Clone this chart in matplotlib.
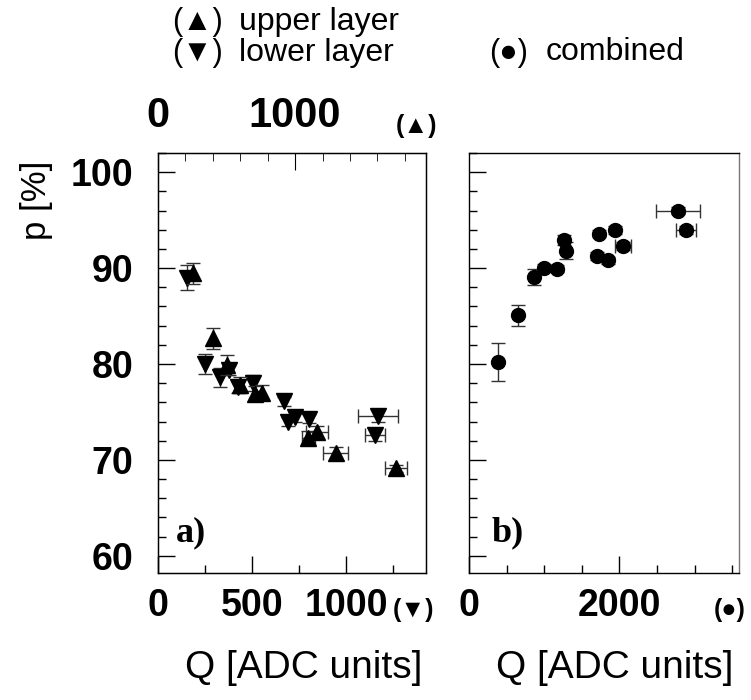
import matplotlib
matplotlib.use('Agg')
import matplotlib.pyplot as plt
from matplotlib.ticker import MultipleLocator

plt.rcParams['font.family'] = ['Liberation Sans', 'DejaVu Sans']

# upper layer (top axis scale)
up_q = [258, 399, 506, 599, 708, 757, 1097, 1158, 1297, 1735]
up_p = [89.45, 82.7, 79.9, 77.8, 76.9, 77.0, 72.3, 72.9, 70.7, 69.1]
up_perr = [1.1, 1.1, 1.0, 0.8, 0.8, 0.8, 0.7, 0.6, 0.6, 0.4]
up_qerr = [0, 0, 0, 0, 0, 0, 49, 80, 91, 80]

# lower layer (bottom axis scale)
lo_q = [154, 250, 330, 378, 427, 505, 667, 693, 729, 800, 1168, 1151]
lo_p = [89.0, 80.0, 78.6, 79.4, 77.6, 78.0, 76.1, 74.0, 74.5, 74.3, 74.6, 72.6]
lo_perr = [1.3, 1.05, 0.95, 0.5, 0.6, 0.8, 0.5, 0.5, 0.5, 0.5, 0.6, 0.6]
lo_qerr = [0, 0, 0, 0, 0, 0, 0, 0, 0, 0, 106, 53]

# combined
co_q = [389, 655, 863, 996, 1173, 1262, 1288, 1704, 1726, 1842, 1948, 2049, 2780, 2882]
co_p = [80.2, 85.1, 89.1, 90.05, 89.95, 92.9, 91.8, 91.25, 93.6, 90.8, 94.0, 92.3, 96.0, 94.0]
co_perr = [1.95, 1.1, 0.85, 0.4, 0.4, 0.5, 0.9, 0.4, 0.4, 0.4, 0.4, 0.4, 0.4, 0.4]
co_qerr = [0, 0, 0, 0, 0, 0, 0, 0, 0, 0, 0, 111, 288, 133]

p_ticks = [60, 70, 80, 90, 100]

fig = plt.figure(figsize=(7.51, 7.0), dpi=100)
ax1 = fig.add_axes([0.2104, 0.1814, 0.3569, 0.6])
ax2 = fig.add_axes([0.6245, 0.1814, 0.3595, 0.6])
ax1t = ax1.twiny()

eb = dict(fmt='none', ecolor='#333333', elinewidth=1, capsize=5, capthick=1)

ax1.errorbar(lo_q, lo_p, yerr=lo_perr, xerr=lo_qerr, **eb)
ax1.plot(lo_q, lo_p, 'kv', markersize=11, zorder=3)
ax1t.errorbar(up_q, up_p, yerr=up_perr, xerr=up_qerr, **eb)
ax1t.plot(up_q, up_p, 'k^', markersize=11, zorder=3)
ax2.errorbar(co_q, co_p, yerr=co_perr, xerr=co_qerr, **eb)
ax2.plot(co_q, co_p, 'ko', markersize=10, zorder=3)

for ax in (ax1, ax2):
    ax.set_ylim(58.2, 102)
    ax.set_yticks(p_ticks)
    ax.yaxis.set_minor_locator(MultipleLocator(2))
    ax.tick_params(which='both', direction='in', top=False, right=False)
    ax.tick_params(which='major', length=12, width=1)
    ax.tick_params(which='minor', length=6, width=1)
    for s in ax.spines.values():
        s.set_linewidth(1)

ax1.set_xlim(0, 1424)
ax1.set_xticks([0, 500, 1000])
ax1.xaxis.set_minor_locator(MultipleLocator(250))
ax1.tick_params(axis='x', which='major', pad=11, labelsize=27)
ax1.tick_params(axis='y', which='major', pad=18, labelsize=27)
for lab in ax1.get_xticklabels() + ax1.get_yticklabels():
    lab.set_fontweight('bold')

ax1t.set_xlim(0, 1955)
ax1t.set_ylim(58.2, 102)
ax1t.set_xticks([0, 1000])
ax1t.xaxis.set_minor_locator(MultipleLocator(200))
ax1t.tick_params(which='both', direction='in')
ax1t.tick_params(which='major', length=12, pad=12, labelsize=30)
ax1t.tick_params(which='minor', length=6)
for lab in ax1t.get_xticklabels():
    lab.set_fontweight('bold')

ax2.set_xlim(0, 3590)
ax2.set_xticks([0, 2000])
ax2.xaxis.set_minor_locator(MultipleLocator(500))
ax2.tick_params(axis='x', which='major', pad=11, labelsize=27)
ax2.set_yticklabels([])
for lab in ax2.get_xticklabels():
    lab.set_fontweight('bold')
ax2.spines['right'].set_color('#777777')

ax1.text(0.065, 0.075, 'a)', transform=ax1.transAxes, fontsize=26,
         fontweight='bold', family='Liberation Serif')
ax2.text(0.085, 0.075, 'b)', transform=ax2.transAxes, fontsize=26,
         fontweight='bold', family='Liberation Serif')

fig.text(0.048, 0.714, 'p [%]', rotation=90, fontsize=25,
         ha='center', va='center')
fig.text(0.405, 0.046, 'Q [ADC units]', fontsize=28, ha='center', va='center')
fig.text(0.819, 0.046, 'Q [ADC units]', fontsize=28, ha='center', va='center')

fig.text(0.551, 0.128, '(\u25bc)', fontsize=18, fontweight='bold', ha='center', va='center')
fig.text(0.972, 0.128, '(\u25cf)', fontsize=18, fontweight='bold', ha='center', va='center')
fig.text(0.554, 0.82, '(\u25b2)', fontsize=18, fontweight='bold', ha='center', va='center')

fig.text(0.263, 0.968, '(\u25b2)', fontsize=22, ha='center', va='center')
fig.text(0.318, 0.968, 'upper layer', fontsize=23, ha='left', va='center')
fig.text(0.263, 0.925, '(\u25bc)', fontsize=22, ha='center', va='center')
fig.text(0.318, 0.925, 'lower layer', fontsize=23, ha='left', va='center')
fig.text(0.677, 0.925, '(\u25cf)', fontsize=22, ha='center', va='center')
fig.text(0.727, 0.925, 'combined', fontsize=23, ha='left', va='center')

fig.savefig('out.png', dpi=100)
